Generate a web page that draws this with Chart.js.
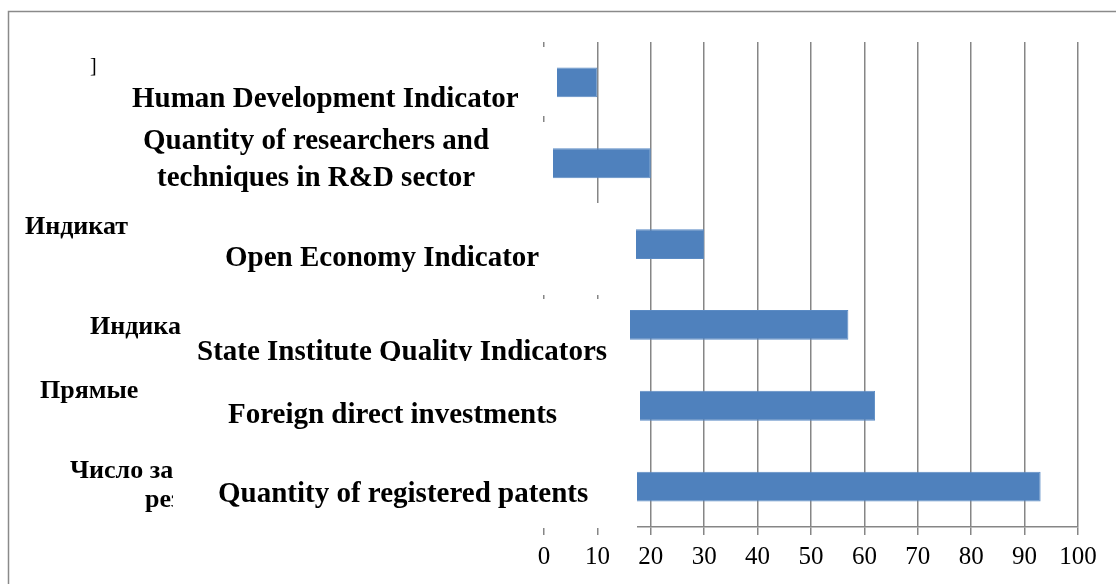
<!DOCTYPE html>
<html>
<head>
<meta charset="utf-8">
<script src="https://cdn.jsdelivr.net/npm/chart.js@4/dist/chart.umd.min.js"></script>
<style>
  html, body { margin: 0; padding: 0; background: #fff; }
  #wrap { width: 1116px; height: 584px; position: relative; }
  canvas { display: block; }
</style>
</head>
<body>
<div id="wrap"><canvas id="c" width="1116" height="584"></canvas></div>
<script>
// ---- data ----
const categories = [
  ['Human Development Indicator'],
  ['Quantity of researchers and', 'techniques in R&D sector'],
  ['Open Economy Indicator'],
  ['State Institute Quality Indicators'],
  ['Foreign direct investments'],
  ['Quantity of registered patents']
];
const values = [10, 20, 30, 57, 62, 93];
const xTicks = [0, 10, 20, 30, 40, 50, 60, 70, 80, 90, 100];
// visible fragments of the original (Russian) axis labels
const ruFragments = ['Индикат', 'Индика', 'Прямые', 'Число за', 'рез'];

// ---- layout of the overlaid label boxes (x0, y0, x1, y1) and text ----
const boxes = [
  { r: [120, 47, 557, 116], lines: [[132, 107]] },
  { r: [130, 122, 553, 210], lines: [[143, 149], [157, 186]] },
  { r: [130, 203, 636, 295], lines: [[225, 266]] },
  { r: [182, 299, 630, 361], lines: [[197, 360]] },
  { r: [150, 361, 640, 440], lines: [[228, 423]] },
  { r: [173, 440, 637, 528], lines: [[218, 502]] }
];
const ruPos = [[25, 234], [90, 334], [40, 398], [70, 478], [145, 507]];

const frame = {
  id: 'frame',
  beforeDraw(chart) {
    const ctx = chart.ctx;
    ctx.save();
    ctx.fillStyle = '#fff';
    ctx.fillRect(0, 0, chart.width, chart.height);
    ctx.strokeStyle = '#8a8a8a';
    ctx.lineWidth = 1.5;
    ctx.beginPath();
    ctx.moveTo(8.5, chart.height + 2);
    ctx.lineTo(8.5, 11.5);
    ctx.lineTo(chart.width + 2, 11.5);
    ctx.stroke();
    ctx.restore();
  }
};

const overlay = {
  id: 'overlay',
  afterDraw(chart) {
    const ctx = chart.ctx;
    ctx.save();
    ctx.fillStyle = '#000';
    ctx.textBaseline = 'alphabetic';
    ctx.textAlign = 'left';
    ctx.font = '20px "Liberation Serif"';
    ctx.fillText(']', 90, 72);
    ctx.font = 'bold 26px "Liberation Serif"';
    ruFragments.forEach((t, i) => ctx.fillText(t, ruPos[i][0], ruPos[i][1]));
    ctx.font = 'bold 29px "Liberation Serif"';
    boxes.forEach((b, i) => {
      const [x0, y0, x1, y1] = b.r;
      ctx.fillStyle = '#fff';
      ctx.fillRect(x0, y0, x1 - x0, y1 - y0);
      ctx.fillStyle = '#000';
      ctx.save();
      ctx.beginPath();
      ctx.rect(x0, y0, x1 - x0, y1 - y0);
      ctx.clip();
      categories[i].forEach((line, j) => ctx.fillText(line, b.lines[j][0], b.lines[j][1]));
      ctx.restore();
    });
    ctx.restore();
  }
};

new Chart(document.getElementById('c'), {
  type: 'bar',
  data: {
    labels: categories.map(c => c.join(' ')),
    datasets: [{
      data: values,
      backgroundColor: '#4F81BD',
      borderColor: '#5b8bc4',
      borderWidth: 1,
      borderSkipped: false,
      barPercentage: 0.37,
      categoryPercentage: 1
    }]
  },
  options: {
    indexAxis: 'y',
    responsive: false,
    animation: false,
    events: [],
    layout: { padding: { left: 544, right: 38, top: 42, bottom: 0 } },
    plugins: { legend: { display: false }, tooltip: { enabled: false }, title: { display: false } },
    scales: {
      y: { display: false },
      x: {
        min: 0, max: 100,
        afterBuildTicks: s => { s.ticks = xTicks.map(v => ({ value: v })); },
        afterFit: s => { s.height = 57; },
        grid: { color: '#868686', lineWidth: 1.5, tickLength: 8, drawTicks: true },
        border: { display: true, color: '#868686', width: 1.5 },
        ticks: { color: '#000', padding: 7, font: { family: '"Liberation Serif"', size: 25 } }
      }
    }
  },
  plugins: [frame, overlay]
});
</script>
</body>
</html>
